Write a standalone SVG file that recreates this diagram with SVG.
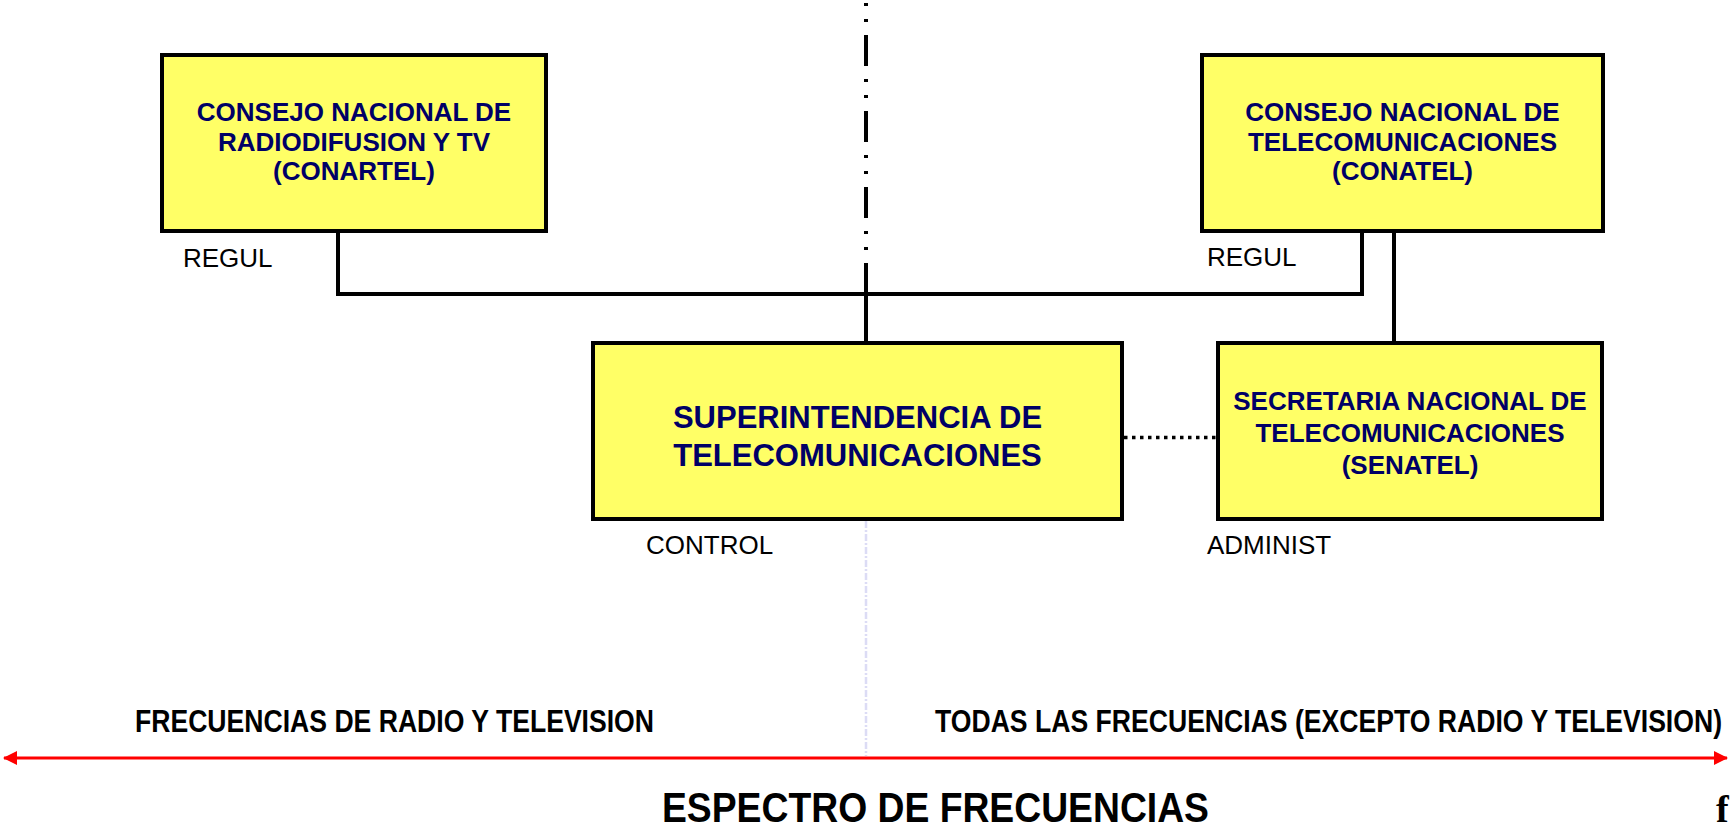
<svg xmlns="http://www.w3.org/2000/svg" width="1731" height="827" viewBox="0 0 1731 827">
<style>
.box{fill:#FFFF66;stroke:#000;stroke-width:4}
.nt{font-family:"Liberation Sans",Arial,sans-serif;font-weight:bold;fill:#000066;text-anchor:middle}
.lbl{font-family:"Liberation Sans",Arial,sans-serif;font-size:26px;fill:#000}
.conn{fill:none;stroke:#000;stroke-width:4}
.band{font-family:"Liberation Sans Narrow","Liberation Sans",Arial,sans-serif;font-weight:bold;fill:#000}
</style>
<defs>
<marker id="ah" markerWidth="14" markerHeight="14" refX="13" refY="7" orient="auto-start-reverse" markerUnits="userSpaceOnUse">
<path d="M0,0 L14,7 L0,14 Z" fill="#FF0000"/>
</marker>
</defs>
<rect width="1731" height="827" fill="#fff"/>
<g id="divider">
<line x1="866" y1="0" x2="866" y2="294" stroke="#000" stroke-width="4" stroke-dasharray="31 13 3 13 3 13" stroke-dashoffset="41"/>
<line x1="866" y1="521" x2="866" y2="756" stroke="#dcdcf5" stroke-width="2.5" stroke-dasharray="7 2 2 2"/>
</g>
<g id="connectors">
<path class="conn" d="M338 231 V294 H1362 V231"/>
<path class="conn" d="M866 294 V343"/>
<path class="conn" d="M1394 231 V343"/>
<line x1="1124" y1="437.5" x2="1216" y2="437.5" stroke="#000" stroke-width="3.5" stroke-dasharray="3.5 4.5"/>
</g>
<g id="conartel">
<rect class="box" x="162" y="55" width="384" height="176"/>
<text class="nt" font-size="26" x="354" y="121">CONSEJO NACIONAL DE</text>
<text class="nt" font-size="26" x="354" y="150.5">RADIODIFUSION Y TV</text>
<text class="nt" font-size="26" x="354" y="180">(CONARTEL)</text>
<text class="lbl" x="183" y="267">REGUL</text>
</g>
<g id="conatel">
<rect class="box" x="1202" y="55" width="401" height="176"/>
<text class="nt" font-size="26" x="1402.5" y="121">CONSEJO NACIONAL DE</text>
<text class="nt" font-size="26" x="1402.5" y="150.5">TELECOMUNICACIONES</text>
<text class="nt" font-size="26" x="1402.5" y="180">(CONATEL)</text>
<text class="lbl" x="1207" y="266">REGUL</text>
</g>
<g id="supertel">
<rect class="box" x="593" y="343" width="529" height="176"/>
<text class="nt" font-size="31" x="857.5" y="428">SUPERINTENDENCIA DE</text>
<text class="nt" font-size="31" x="857.5" y="466">TELECOMUNICACIONES</text>
<text class="lbl" x="646" y="554">CONTROL</text>
</g>
<g id="senatel">
<rect class="box" x="1218" y="343" width="384" height="176"/>
<text class="nt" font-size="26" x="1410" y="410">SECRETARIA NACIONAL DE</text>
<text class="nt" font-size="26" x="1410" y="442">TELECOMUNICACIONES</text>
<text class="nt" font-size="26" x="1410" y="474">(SENATEL)</text>
<text class="lbl" x="1207" y="554">ADMINIST</text>
</g>
<g id="spectrum">
<line x1="4" y1="758" x2="1727" y2="758" stroke="#FF0000" stroke-width="3" marker-start="url(#ah)" marker-end="url(#ah)"/>
<text class="band" font-size="31" x="135" y="732" textLength="519" lengthAdjust="spacingAndGlyphs">FRECUENCIAS DE RADIO Y TELEVISION</text>
<text class="band" font-size="31" x="935" y="732" textLength="787" lengthAdjust="spacingAndGlyphs">TODAS LAS FRECUENCIAS (EXCEPTO RADIO Y TELEVISION)</text>
<text class="band" font-size="43" x="662" y="822" textLength="547" lengthAdjust="spacingAndGlyphs">ESPECTRO DE FRECUENCIAS</text>
<text x="1716" y="822" font-family="'Liberation Serif','Times New Roman',serif" font-weight="bold" font-size="38" fill="#000">f</text>
</g>
</svg>
